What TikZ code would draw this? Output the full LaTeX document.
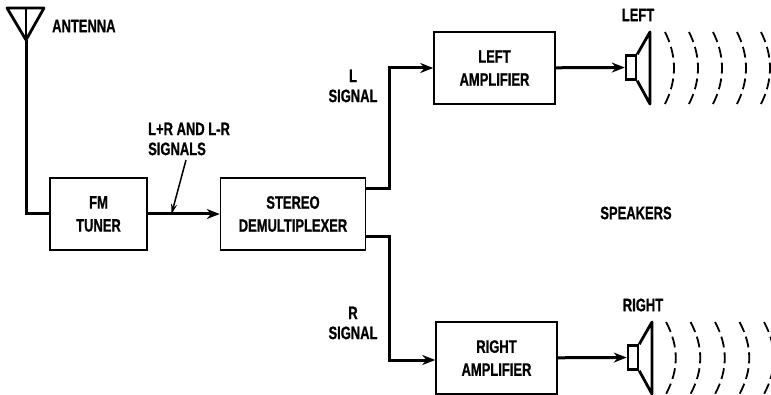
\documentclass[tikz,border=0pt]{standalone}
\usepackage{fontspec}
\setmainfont[FakeStretch=0.72,BoldFeatures={FakeBold=0.8}]{Liberation Sans}
\usetikzlibrary{positioning,arrows.meta,calc}
\tikzset{
  node-box/.style={draw,line width=1.5pt,minimum height=72pt,align=center,inner sep=0pt,
    font=\fontsize{18}{23}\selectfont\bfseries},
  node-label/.style={align=center,inner sep=0pt,font=\fontsize{18}{20}\selectfont\bfseries},
  node-spk/.style={draw,line width=2.5pt,minimum width=10pt,minimum height=24pt,inner sep=0pt},
  wire/.style={line width=3pt},
  arrow/.style={wire,-{Stealth[length=13pt,width=10pt]}},
  arrow-note/.style={line width=1.5pt,-{Stealth[length=10pt,width=6pt]}},
  cone/.style={line width=2.8pt,line join=round},
  wave/.style={line width=1.8pt,dash pattern=on 11pt off 5pt},
}
\begin{document}
\begin{tikzpicture}[x=1pt,y=-1pt]
  \useasboundingbox (0,0) rectangle (771,395);
  % blocks
  \node[node-box,minimum width=97pt] (tuner) at (98.5,214) {FM\\TUNER};
  \node[node-box,minimum width=145pt,right=72pt of tuner] (demux) {STEREO\\DEMULTIPLEXER};
  \node[node-box,minimum width=121pt] (ampL) at (494.5,68) {LEFT\\AMPLIFIER};
  \node[node-box,minimum width=121pt] (ampR) at (496.5,358) {RIGHT\\AMPLIFIER};
  \node[node-spk] (spkL) at (631,67.5) {};
  \node[node-spk] (spkR) at (633,357.5) {};
  % antenna
  \coordinate (antTop) at (26,8);
  \coordinate (antFoot) at (26,40);
  \draw[cone] (7,8) -- (44,8) -- (antFoot) -- cycle;
  \draw[line width=1.5pt] (antTop) -- (antFoot);
  \draw[wire] (antFoot) |- (tuner.west);
  % signal path
  \draw[arrow] (tuner) -- coordinate[pos=.33] (tap) (demux);
  \coordinate (demuxL) at ([yshift=25pt]demux.east);
  \coordinate (demuxR) at ([yshift=-23pt]demux.east);
  \draw[arrow] (demuxL) -- ++(23,0) |- (ampL.west);
  \draw[arrow] (demuxR) -- ++(23,0) |- ([yshift=-2pt]ampR.west);
  \draw[arrow] (ampL) -- (spkL);
  \draw[arrow] (ampR) -- (spkR);
  % speakers
  \draw[cone] (spkL.north east) -- (650,32) -- (650,104) -- (spkL.south east);
  \draw[cone] (spkR.north east) -- (652,322) -- (652,394) -- (spkR.south east);
  \foreach \i in {0,...,4} {
    \draw[wave] ({665+24*\i},32) .. controls ({677+24*\i},56) and ({677+24*\i},80) .. ({665+24*\i},104);
    \draw[wave] ({666+24.5*\i},322) .. controls ({679+24.5*\i},346) and ({679+24.5*\i},370) .. ({666+24.5*\i},394);
  }
  % labels
  \node[node-label,anchor=west] (antLabel) at (52,26) {ANTENNA};
  \node[node-label,align=left,anchor=west] (sumLabel) at (148,139) {L+R AND L-R\\SIGNALS};
  \node[node-label] (sigL) at (353,86) {L\\SIGNAL};
  \node[node-label] (sigR) at (353,323) {R\\SIGNAL};
  \node[node-label] (spkText) at (636,213) {SPEAKERS};
  \node[node-label] (leftText) at (638,15) {LEFT};
  \node[node-label] (rightText) at (643,305) {RIGHT};
  \coordinate (noteFrom) at (186,160);
  \draw[arrow-note] (noteFrom) -- (tap);
\end{tikzpicture}
\end{document}
